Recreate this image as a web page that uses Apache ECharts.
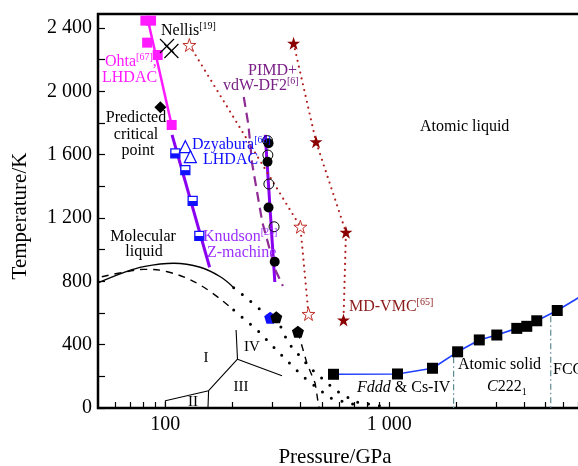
<!DOCTYPE html>
<html>
<head>
<meta charset="utf-8">
<script src="https://cdn.jsdelivr.net/npm/echarts@6/dist/echarts.min.js"></script>
<style>
html, body { margin: 0; padding: 0; background: #fff; }
#chart { width: 578px; height: 466px; }
</style>
</head>
<body>
<div id="chart"></div>
<script>
const FONT = 'Liberation Serif';

// tick / label values
const xTicks = [60, 70, 80, 90, 100, 200, 300, 400, 500, 600, 700, 800, 900,
  1000, 2000, 3000, 4000, 5000, 6000, 7000, 8000, 9000];
const xLabels = [100, 1000];
const yTicks = [0, 200, 400, 600, 800, 1000, 1200, 1400, 1600, 1800, 2000, 2200, 2400];
const yLabels = [0, 400, 800, 1200, 1600, 2000, 2400];

// [pressure GPa, temperature K]
const meltSolid = [[50, 790], [65, 855], [80, 893], [109, 914], [143, 889], [176, 829], [202, 760]];
const meltDashed = [[52, 829], [67, 861], [80, 876], [102, 861], [143, 777], [202, 619]];
const meltDotA = [[202, 760], [228, 701], [257, 638], [294, 572]];
const meltDotB = [[202, 619], [257, 493], [320, 354], [409, 202], [545, 63], [742, 13]];
const meltDotC = [[313, 575], [354, 411], [444, 253], [574, 114], [705, 38], [912, 13]];

const bndA = [[100, 0], [100, 46], [156, 109], [210, 308], [207, 493]];
const bndB = [[155, 0], [156, 109]];
const bndC = [[210, 308], [332, 204]];

const ohtaLine = [[82.9, 2472], [107.1, 1777]];
const ohtaPts = [[81.4, 2447], [86.3, 2447], [82.9, 2308], [92.4, 2230], [106.7, 1788]];
const knudsonLine = [[107.1, 1725], [157.6, 889]];
const knudsonPts = [[110.8, 1609], [122.8, 1503], [132.4, 1308], [141.8, 1087]];
const zLine = [[279.5, 1725], [308.3, 796]];
const circFilled = [[289, 1672], [286, 1556], [289, 1267], [308, 924]];
const circOpen = [[286, 1689], [287, 1598], [290, 1415], [306, 1145]];
const pimdLine = [[224, 1965], [235, 1788], [244, 1546], [271, 1175], [310, 872], [335, 771]];

const starsFilled = [[374, 2304], [471, 1682], [641, 1110], [625, 556]];
const starsOpen = [[128, 2293], [401, 1145], [436, 594]];

const nellis = [[101.7, 2287], [106.4, 2255]];
const critPoint = [[95, 1900]];
const dzyabura = [[122.8, 1651], [129.3, 1588]];
const pentBlue = [[294, 570]];
const pentBlack = [[313, 573], [391, 482]];
const pentDash = [[391, 482], [429, 282], [467, 156], [484, 13], [487, 0]];

const atomicPts = [[564, 213], [1089, 215], [1561, 251], [2022, 355], [2527, 430], [3026, 461],
  [3716, 503], [4119, 516], [4564, 551], [5635, 616]];
const atomicTail = [[5635, 616], [7500, 722]];
const vline1 = [[1940, 320], [1940, 0]];
const vline2 = [[5270, 580], [5270, 0]];

const STAR = 'path://M0,-1L0.2245,-0.309L0.951,-0.309L0.363,0.118L0.588,0.809L0,0.382L-0.588,0.809L-0.363,0.118L-0.951,-0.309L-0.2245,-0.309Z';
const PENT = 'path://M0,-1L0.951,-0.309L0.588,0.809L-0.588,0.809L-0.951,-0.309Z';
const CROSS = 'path://M-1,-1L1,1M1,-1L-1,1';
const HALF = 'path://M0,0L2,0L2,1L0,1Z';

function line(data, color, width, type, extra) {
  return Object.assign({
    type: 'line', data: data, symbol: 'none', silent: true, z: 2,
    lineStyle: { color: color, width: width, type: type || 'solid', cap: 'butt' }
  }, extra || {});
}
function dotted(data, color, width, gap) {
  return line(data, color, width, [0, gap], { lineStyle: { color: color, width: width, type: [0, gap], cap: 'round' } });
}
function pts(data, symbol, size, style, extra) {
  return Object.assign({
    type: 'scatter', data: data, symbol: symbol, symbolSize: size,
    itemStyle: Object.assign({ opacity: 1 }, style), z: 5, silent: true
  }, extra || {});
}

const chart = echarts.init(document.getElementById('chart'));

function thou(v) {
  return v >= 1000 ? String(v).replace(/(\d)(\d{3})$/, '$1 $2') : String(v);
}

function txt(x, y, text, color, opts) {
  return {
    type: 'text', x: x, y: y, z: 100,
    rotation: (opts && opts.rot) || 0,
    style: Object.assign({
      text: text, fill: color || '#000', font: '16px "' + FONT + '"',
      align: 'left', verticalAlign: 'middle',
      rich: {
        sup: { fontSize: 10, fontFamily: FONT, fill: color || '#000', verticalAlign: 'top', lineHeight: 20 },
        sub: { fontSize: 10, fontFamily: FONT, fill: color || '#000', verticalAlign: 'bottom', lineHeight: 20 },
        it: { fontSize: 16, fontFamily: FONT, fontStyle: 'italic', fill: color || '#000', lineHeight: 20 },
        n: { fontSize: 16, fontFamily: FONT, fill: color || '#000', lineHeight: 20 }
      }
    }, opts || {})
  };
}

const option = {
  animation: false,
  backgroundColor: '#fff',
  grid: {
    left: 98, right: -35, top: 14, bottom: 58, outerBoundsMode: 'none',
    show: true, borderColor: '#000', borderWidth: 2.5
  },
  xAxis: {
    type: 'log', logBase: 10, min: 50, max: 10000,
    axisLine: { show: false },
    splitLine: { show: false },
    axisTick: { inside: true, length: 6, customValues: xTicks, lineStyle: { color: '#000', width: 1.2 } },
    axisLabel: { customValues: xLabels, formatter: thou, fontFamily: FONT, fontSize: 20, color: '#000', margin: 7 }
  },
  yAxis: {
    type: 'value', min: 0, max: 2489,
    axisLine: { show: false },
    splitLine: { show: false },
    axisTick: { inside: true, length: 7, customValues: yTicks, lineStyle: { color: '#000', width: 1.2 } },
    axisLabel: { customValues: yLabels, formatter: thou, fontFamily: FONT, fontSize: 20, color: '#000', margin: 6 }
  },
  series: [
    line(meltSolid, '#000', 1.4, 'solid', { smooth: 0.4 }),
    line(meltDashed, '#000', 1.4, [7, 6], { smooth: 0.4 }),
    dotted(meltDotA, '#000', 3, 11),
    dotted(meltDotB, '#000', 3, 11),
    dotted(meltDotC, '#000', 3, 11),
    line(bndA, '#000', 1.1),
    line(bndB, '#000', 1.1),
    line(bndC, '#000', 1.1),
    line(pentDash, '#000', 1.4, [7, 6]),

    line(ohtaLine, '#ff1aff', 2.5),
    pts(ohtaPts, 'rect', 10, { color: '#ff1aff' }),
    line(knudsonLine, '#8a00f0', 3),
    pts(knudsonPts, 'rect', 9, { color: '#fff', borderColor: '#1010ff', borderWidth: 1.3 }),
    pts(knudsonPts, HALF, [9, 4.5], { color: '#1010ff' }, { symbolOffset: [0, 2.3], z: 6 }),
    line(zLine, '#8a00f0', 3),
    line(pimdLine, '#8e2b94', 2.2, [10, 6]),
    pts(circOpen, 'circle', 10, { color: 'rgba(255,255,255,0)', borderColor: '#000', borderWidth: 1 }),
    pts(circFilled, 'circle', 10, { color: '#000' }),

    dotted(starsFilled, '#b01e1e', 2.2, 6),
    dotted(starsOpen, '#b01e1e', 2.2, 6),
    pts(starsFilled, STAR, 13, { color: '#8b0000' }),
    pts(starsOpen, STAR, 13, { color: '#fff', borderColor: '#c0302a', borderWidth: 1 }),

    pts(nellis, CROSS, 14, { color: 'none', borderColor: '#000', borderWidth: 1.2 }),
    pts(critPoint, 'diamond', 12, { color: '#000' }),
    pts(dzyabura, 'triangle', 12, { color: '#fff', borderColor: '#1010ff', borderWidth: 1.2 }),
    pts(pentBlue, PENT, 12, { color: '#1010ff' }),
    pts(pentBlack, PENT, 12, { color: '#000' }, { z: 6 }),

    line(vline1, '#5d8a90', 1.2, [6, 3, 1.5, 3]),
    line(vline2, '#5d8a90', 1.2, [6, 3, 1.5, 3]),
    line(atomicPts, '#1f3fff', 1.6),
    line(atomicTail, '#1f3fff', 1.6),
    pts(atomicPts, 'rect', 11, { color: '#000' })
  ],
  graphic: [
    txt(20, 216, 'Temperature/K', '#000', { font: '21px "' + FONT + '"', align: 'center', rot: Math.PI / 2 }),
    txt(335, 457, 'Pressure/GPa', '#000', { font: '21px "' + FONT + '"', align: 'center' }),
    txt(161, 31, '{n|Nellis}{sup|[19]}'),
    txt(105, 62, '{n|Ohta}{sup|[67]}{n|,}', '#ff1aff'),
    txt(102, 78, 'LHDAC', '#ff1aff'),
    txt(248, 71, 'PIMD+', '#7a1f86'),
    txt(223, 86, '{n|vdW-DF2}{sup|[6]}', '#7a1f86'),
    txt(136, 118, 'Predicted', '#000', { align: 'center' }),
    txt(136, 135, 'critical', '#000', { align: 'center' }),
    txt(138, 151, 'point', '#000', { align: 'center' }),
    txt(192, 145, '{n|Dzyabura}{sup|[66]}', '#1010ff'),
    txt(203, 160, 'LHDAC', '#1010ff'),
    txt(203, 237, '{n|Knudson}{sup|[25]}', '#9b30ff'),
    txt(207, 253, 'Z-machine', '#9b30ff'),
    txt(143, 237, 'Molecular', '#000', { align: 'center' }),
    txt(144, 252, 'liquid', '#000', { align: 'center' }),
    txt(420, 127, 'Atomic liquid'),
    txt(349, 307, '{n|MD-VMC}{sup|[65]}', '#8b1a1a'),
    txt(357, 388, '{it|Fddd}{n| & Cs-IV}'),
    txt(458, 365, 'Atomic solid'),
    txt(487, 387, '{it|C}{n|222}{sub|1}'),
    txt(553, 370, 'FCC'),
    txt(206, 358, 'I', '#000', { align: 'center', font: '15px "' + FONT + '"' }),
    txt(193, 402, 'II', '#000', { align: 'center', font: '15px "' + FONT + '"' }),
    txt(241, 387, 'III', '#000', { align: 'center', font: '15px "' + FONT + '"' }),
    txt(252, 347, 'IV', '#000', { align: 'center', font: '15px "' + FONT + '"' })
  ]
};
chart.setOption(option);
</script>
</body>
</html>
